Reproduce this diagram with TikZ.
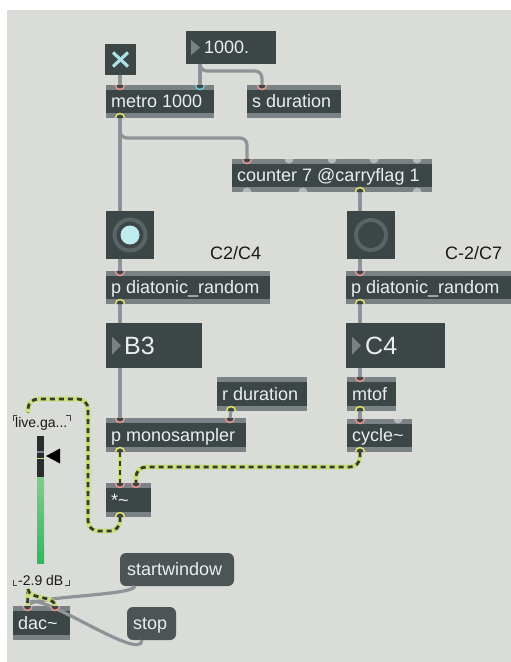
\documentclass[tikz,border=0pt]{standalone}
\usepackage{fontspec}
\setmainfont{Liberation Sans}
\usetikzlibrary{calc}

\definecolor{panel}{RGB}{218,220,216}
\definecolor{boxdark}{RGB}{61,70,71}
\definecolor{stripc}{RGB}{122,130,133}
\definecolor{boxtext}{RGB}{234,238,238}
\definecolor{msgfill}{RGB}{76,84,86}
\definecolor{cordc}{RGB}{141,147,150}
\definecolor{siggreen}{RGB}{203,222,122}
\definecolor{sigdark}{RGB}{50,60,48}
\definecolor{inpink}{RGB}{232,150,145}
\definecolor{incyan}{RGB}{110,200,212}
\definecolor{outyellow}{RGB}{228,226,110}
\definecolor{idleport}{RGB}{180,186,189}
\definecolor{ringc}{RGB}{90,99,101}
\definecolor{diskc}{RGB}{190,236,238}
\definecolor{togglex}{RGB}{170,226,230}
\definecolor{trianglec}{RGB}{122,130,133}
\definecolor{labelc}{RGB}{25,25,25}
\definecolor{meterdark}{RGB}{40,45,46}
\definecolor{metertop}{RGB}{130,205,140}
\definecolor{meterbot}{RGB}{45,185,90}
\definecolor{bracketc}{RGB}{70,70,70}

% object box: name, x, y, width, height, text
\newcommand\objbox[6]{%
  \node[objbody, minimum width=#4pt, minimum height=#5pt] (#1) at (#2,#3) {};
  \fill[stripc] (#1.north west) rectangle ($(#1.north east)+(0,5)$);
  \fill[stripc] (#1.south west) rectangle ($(#1.south east)+(0,-5)$);
  \node[objlabel] at ($(#1.west)+(5,6.4)$) {#6};
}
% inlet on a top edge, outlet on a bottom edge
\newcommand\inport[2][inpink]{%
  \filldraw[fill=boxdark, draw=#1, line width=1.5pt] ($(#2)+(4.5,0)$) arc (0:180:4.5);}
\newcommand\outport[2][outyellow]{%
  \filldraw[fill=boxdark, draw=#1, line width=1.5pt] ($(#2)+(4.5,0)$) arc (0:-180:4.5);}
\newcommand\idlein[1]{\fill[idleport] ($(#1)+(4.5,0)$) arc (0:180:4.5) -- cycle;}
\newcommand\idleout[1]{\fill[idleport] ($(#1)+(4.5,0)$) arc (0:-180:4.5) -- cycle;}
% audio-rate patch cord
\newcommand\sigcord[1]{\draw[sigbase] #1; \draw[sigdash] #1;}

\begin{document}
\begin{tikzpicture}[x=1pt, y=-1pt,
  objbody/.style={anchor=north west, fill=boxdark, inner sep=0pt, outer sep=0pt, draw=none},
  uibox/.style={anchor=north west, fill=boxdark, inner sep=0pt, outer sep=0pt, draw=none},
  msgbox/.style={anchor=north west, fill=msgfill, rounded corners=6pt, inner sep=0pt, outer sep=0pt, draw=none},
  objlabel/.style={anchor=base west, text=boxtext, inner sep=0pt, font=\fontsize{18}{18}\selectfont},
  biglabel/.style={anchor=base west, text=boxtext, inner sep=0pt, font=\fontsize{25}{25}\selectfont},
  rangelabel/.style={anchor=base west, text=labelc, inner sep=0pt, font=\fontsize{18}{18}\selectfont},
  smalllabel/.style={anchor=base west, text=labelc, inner sep=0pt, font=\fontsize{14}{14}\selectfont},
  cord/.style={draw=cordc, line width=3.2pt, rounded corners=7pt},
  sigbase/.style={draw=siggreen, line width=4.6pt, rounded corners=10pt},
  sigdash/.style={draw=sigdark, line width=2.8pt, dash pattern=on 5pt off 4pt, rounded corners=10pt},
  bracket/.style={draw=bracketc, line width=1pt}
]
\useasboundingbox (0,0) rectangle (511,662);
\fill[white] (0,0) rectangle (511,662);
\fill[panel] (7,10) rectangle (511,662);

% ---------- objects ----------
% toggle
\node[uibox, minimum width=31pt, minimum height=31pt] (toggle) at (105,44) {};
\draw[togglex, line width=3.2pt] ($(toggle.center)+(-7.5,-7)$) -- ($(toggle.center)+(7.5,7)$);
\draw[togglex, line width=3.2pt] ($(toggle.center)+(-7.5,7)$) -- ($(toggle.center)+(7.5,-7)$);

% float number box
\node[uibox, minimum width=90pt, minimum height=33pt] (num) at (186,31) {};
\fill[trianglec] ($(num.west)+(5,-7.5)$) -- ++(9,7.5) -- ++(-9,7.5) -- cycle;
\node[objlabel] at ($(num.west)+(18,6.4)$) {1000.};

\objbox{metro}{106}{85}{108}{33}{metro 1000}
\objbox{sdur}{247}{85}{94}{33}{s duration}
\objbox{counter}{232}{159}{200}{33}{counter 7 @carryflag 1}

% buttons
\node[uibox, minimum width=48pt, minimum height=48pt] (btnL) at (106,211) {};
\draw[ringc, line width=4pt] (btnL.center) circle (15.5);
\fill[diskc] (btnL.center) circle (9.5);
\node[uibox, minimum width=48pt, minimum height=48pt] (btnR) at (347,211) {};
\draw[ringc, line width=4pt] (btnR.center) circle (15);

\node[rangelabel] (rangeL) at (210,259) {C2/C4};
\node[rangelabel] (rangeR) at (445,259) {C-2/C7};

\objbox{pdrL}{106}{271}{164}{33}{p diatonic\_random}
\objbox{pdrR}{346}{271}{165}{33}{p diatonic\_random}

% note number boxes
\node[uibox, minimum width=96pt, minimum height=45pt] (numL) at (106,323) {};
\fill[trianglec] ($(numL.west)+(6,-9)$) -- ++(9,9) -- ++(-9,9) -- cycle;
\node[biglabel] at ($(numL.west)+(18,9)$) {B3};
\node[uibox, minimum width=99pt, minimum height=45pt] (numR) at (346,323) {};
\fill[trianglec] ($(numR.west)+(6,-9)$) -- ++(9,9) -- ++(-9,9) -- cycle;
\node[biglabel] at ($(numR.west)+(19,9)$) {C4};

\objbox{rdur}{217}{377}{90}{34}{r duration}
\objbox{mtof}{347}{377}{49}{34}{mtof}
\objbox{mono}{106}{418}{140}{34}{p monosampler}
\objbox{cycle}{347}{419}{65}{33}{cycle\textasciitilde}
\objbox{mul}{106}{483}{45}{34}{*\textasciitilde}

% gain slider
\node[anchor=north west, minimum width=57pt, minimum height=176pt, inner sep=0pt, outer sep=0pt] (lgain) at (13,413) {};
\draw[bracket] (13,421) -- (13,415) -- (17,415);
\draw[bracket] (66,415) -- (70,415) -- (70,421);
\node[smalllabel] at (15,427) {live.ga...};
\fill[meterdark] (37,436) rectangle (44,477);
\fill[stripc] (37,451) rectangle (44,452.5);
\fill[siggreen] (37,458) rectangle (44,459.4);
\shade[top color=metertop, bottom color=meterbot] (37,477) rectangle (44,563);
\fill[black] (46,456) -- (60,448.5) -- (60,463.5) -- cycle;
\node[smalllabel] at (18,585) {-2.9 dB};
\draw[bracket] (13,580) -- (13,585) -- (17,585);
\draw[bracket] (65,585) -- (69,585) -- (69,580);

\node[msgbox, minimum width=114pt, minimum height=33pt] (startw) at (120,553) {};
\node[objlabel] at ($(startw.west)+(7,6.4)$) {startwindow};
\node[msgbox, minimum width=49pt, minimum height=33pt] (stop) at (127,607) {};
\node[objlabel] at ($(stop.west)+(6,6.4)$) {stop};

\objbox{dac}{13}{606}{57}{34}{dac\textasciitilde}

% ---------- control cords ----------
\draw[cord] ($(toggle.south west)+(15,0)$) -- ($(metro.north west)+(14,0)$);
\draw[cord] ($(num.south west)+(14,0)$) -- ($(metro.north east)+(-14,0)$);
\draw[cord] ($(num.south west)+(14,0)$) -- ++(0,7) -| ($(sdur.north west)+(15,0)$);
\draw[cord] ($(metro.south west)+(14,0)$) -- ($(btnL.north west)+(14,0)$);
\draw[cord] ($(metro.south west)+(14,0)$) -- ++(0,20) -| ($(counter.north west)+(15,0)$);
\draw[cord] ($(counter.south west)+(128,0)$) -- ($(btnR.north west)+(13,0)$);
\draw[cord] ($(btnL.south west)+(14,0)$) -- ($(pdrL.north west)+(14,0)$);
\draw[cord] ($(btnR.south west)+(13,0)$) -- ($(pdrR.north west)+(14,0)$);
\draw[cord] ($(pdrL.south west)+(14,0)$) -- ($(numL.north west)+(14,0)$);
\draw[cord] ($(pdrR.south west)+(14,0)$) -- ($(numR.north west)+(14,0)$);
\draw[cord] ($(numL.south west)+(14,0)$) -- ($(mono.north west)+(14,0)$);
\draw[cord] ($(numR.south west)+(14,0)$) -- ($(mtof.north west)+(13,0)$);
\draw[cord] ($(mtof.south west)+(13,0)$) -- ($(cycle.north west)+(13,0)$);
\draw[cord] ($(rdur.south west)+(14,0)$) -- ($(mono.north east)+(-16,0)$);
\draw[cord, rounded corners=0pt] ($(startw.south west)+(15,0)$) .. controls +(0,10) and +(0,-10) .. ($(dac.north west)+(14.5,0)$);
\draw[cord, rounded corners=0pt] ($(stop.south west)+(15,0)$) .. controls +(0,25) and +(0,-25) .. ($(dac.north west)+(14.5,0)$);

% ---------- signal cords ----------
\sigcord{($(mono.south west)+(14,0)$) -- ($(mul.north west)+(14,0)$)}
\sigcord{($(cycle.south west)+(13,0)$) -- ++(0,15) -| ($(mul.north west)+(30,0)$)}
\sigcord{($(mul.south west)+(14,0)$) -- ++(0,14) -| (88,399) -| ($(lgain.north west)+(15,0)$)}
\sigcord{($(lgain.south west)+(15,0)$) -- ($(dac.north west)+(14.5,0)$)}
\sigcord{[rounded corners=0pt] ($(lgain.south west)+(15,0)$) .. controls +(0,11) and +(0,-11) .. ($(dac.north west)+(42,0)$)}

% ---------- inlets and outlets ----------
\inport{$(metro.north west)+(14,0)$}
\inport[incyan]{$(metro.north east)+(-14,0)$}
\outport{$(metro.south west)+(14,0)$}
\inport{$(sdur.north west)+(15,0)$}
\inport{$(counter.north west)+(15,0)$}
\idlein{$(counter.north west)+(57,0)$}
\idlein{$(counter.north west)+(100,0)$}
\idlein{$(counter.north west)+(142,0)$}
\idlein{$(counter.north west)+(185,0)$}
\idleout{$(counter.south west)+(15,0)$}
\idleout{$(counter.south west)+(71,0)$}
\outport{$(counter.south west)+(128,0)$}
\idleout{$(counter.south west)+(185,0)$}
\inport{$(pdrL.north west)+(14,0)$}
\outport{$(pdrL.south west)+(14,0)$}
\inport{$(pdrR.north west)+(14,0)$}
\outport{$(pdrR.south west)+(14,0)$}
\outport{$(rdur.south west)+(14,0)$}
\inport{$(mono.north west)+(14,0)$}
\inport{$(mono.north east)+(-16,0)$}
\outport{$(mono.south west)+(14,0)$}
\inport{$(mtof.north west)+(13,0)$}
\outport{$(mtof.south west)+(13,0)$}
\inport{$(cycle.north west)+(13,0)$}
\idlein{$(cycle.north west)+(51,0)$}
\outport{$(cycle.south west)+(13,0)$}
\inport{$(mul.north west)+(14,0)$}
\inport{$(mul.north west)+(30,0)$}
\outport{$(mul.south west)+(14,0)$}
\inport{$(dac.north west)+(14.5,0)$}
\inport{$(dac.north west)+(42,0)$}
\end{tikzpicture}
\end{document}
